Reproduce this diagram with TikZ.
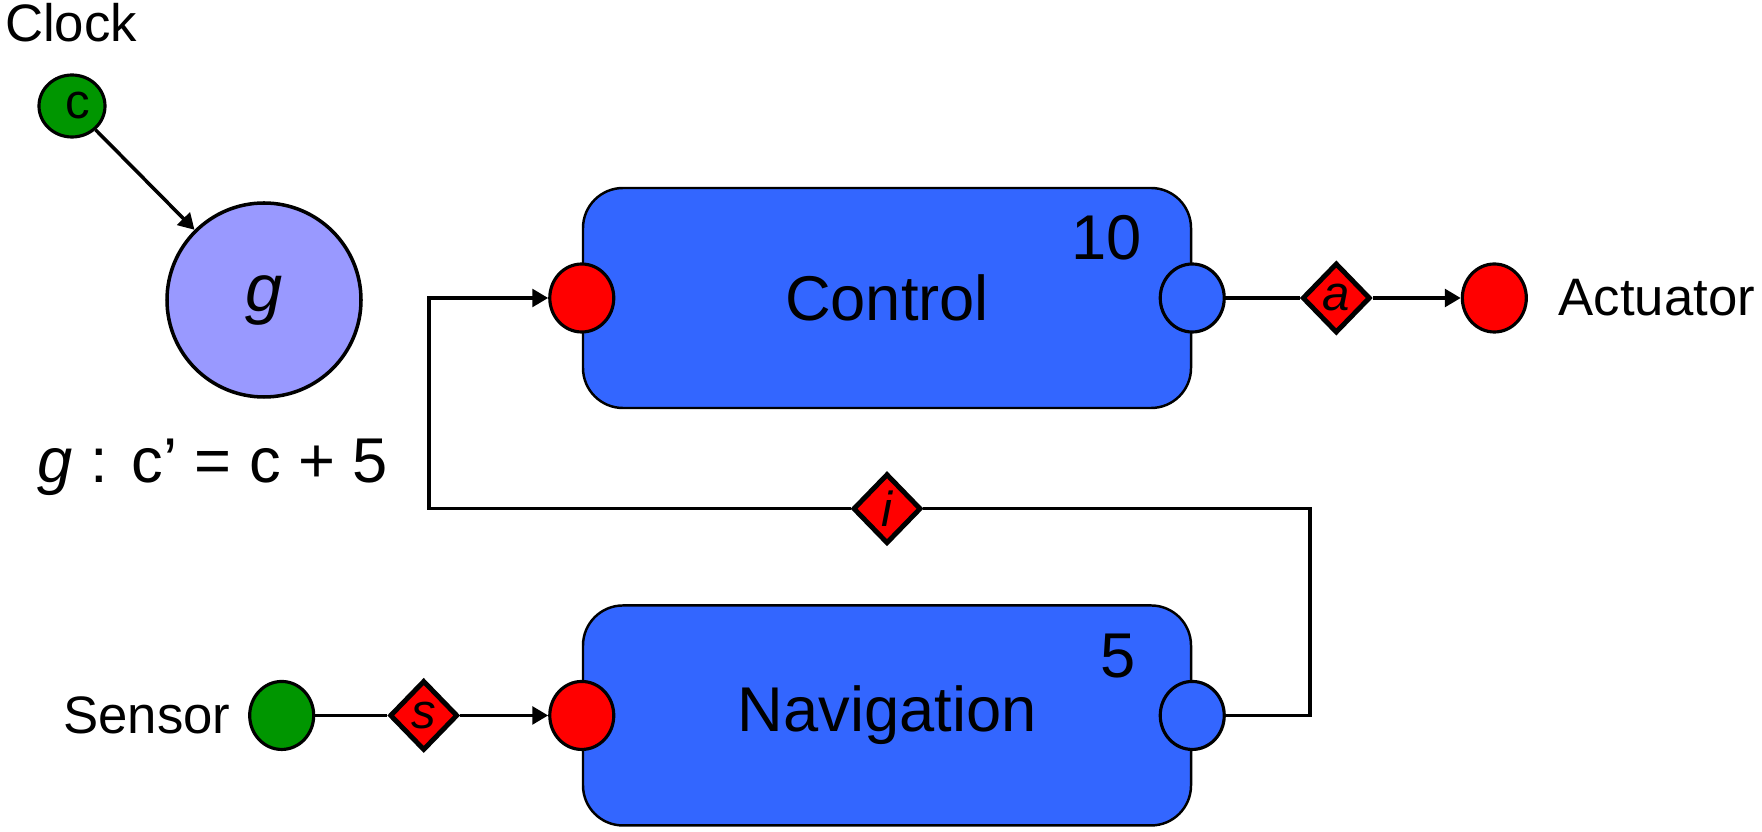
\documentclass[tikz,border=0pt]{standalone}
\usepackage{fontspec}
\setmainfont{Liberation Sans}
\usetikzlibrary{positioning, shapes.geometric, arrows.meta}
\definecolor{boxblue}{RGB}{51,102,255}
\definecolor{portred}{RGB}{255,0,0}
\definecolor{clkgreen}{RGB}{0,150,0}
\definecolor{funblue}{RGB}{153,153,255}
\tikzset{
->, % connectors are directed unless told otherwise
>={Triangle[length=4.5pt,width=5pt]}, % small solid heads
wire/.style={line width=1pt}, % every connector
block/.style={draw, line width=0.7pt, fill=boxblue, rounded corners=0.4cm,
  minimum width=6.08cm, minimum height=2.2cm, font=\fontsize{18pt}{21pt}\selectfont},
port/.style={draw, ellipse, line width=0.9pt, inner sep=0,
  minimum width=0.64cm, minimum height=0.68cm}, % ports sit on the box sides
chan/.style={draw, diamond, aspect=1, line width=1.4pt, fill=portred, inner sep=0,
  minimum width=0.68cm, minimum height=0.7cm, font=\fontsize{14pt}{16pt}\selectfont\itshape},
lbl/.style={inner sep=0, font=\fontsize{15pt}{18pt}\selectfont},
rate/.style={inner sep=0, font=\fontsize{18pt}{21pt}\selectfont},
}

\begin{document}
\begin{tikzpicture}
        \useasboundingbox (0,0) rectangle (17.62,-8.32);

        % clock and guard
        \node[lbl, anchor=base west] (clklbl) at (0.045,-0.42) {Clock};
        \node[draw, ellipse, line width=0.9pt, fill=clkgreen, inner sep=0,
              minimum width=0.66cm, minimum height=0.62cm,
              font=\fontsize{14pt}{16pt}\selectfont] (clk) at (0.72,-1.06) {\hspace{0.12cm}c};
        \node[draw, circle, line width=1pt, fill=funblue, minimum size=1.94cm,
              font=\fontsize{19pt}{22pt}\selectfont\itshape] (g) at (2.64,-3.0) {g};
        \node[anchor=base west, inner sep=0, font=\fontsize{18pt}{21pt}\selectfont]
              (geq) at (0.37,-4.83) {\textit{g} : c’ = c + 5};

        % the two tasks
        \node[block] (ctrl) at (8.87,-2.98) {Control};
        \node[block, below=1.95cm of ctrl] (nav) {Navigation};
        \node[rate, below left=0.28cm and 0.5cm of ctrl.north east] (ctrlrate) {10};
        \node[rate, below left=0.29cm and 0.56cm of nav.north east] (navrate) {5};

        \node[port, fill=portred] (ctrlin) at (ctrl.west) {};
        \node[port, fill=boxblue] (ctrlout) at (ctrl.east) {};
        \node[port, fill=portred] (navin) at (nav.west) {};
        \node[port, fill=boxblue] (navout) at (nav.east) {};

        % actuator side
        \node[chan, right=0.74cm of ctrlout] (da) {a};
        \node[port, fill=portred, right=0.88cm of da] (act) {};
        \node[lbl, right=0.3cm of act] (actlbl) {Actuator};

        % sensor side
        \node[chan, left=0.88cm of navin] (ds) {s};
        \node[port, fill=clkgreen, left=0.72cm of ds] (sen) {};
        \node[lbl, left=0.17cm of sen] (senlbl) {Sensor};

        % feedback from navigation to control
        \node[chan, below=0.62cm of ctrl] (di) {i};
        \coordinate[right=0.84cm of navout] (fbr);
        \coordinate[left=1.19cm of ctrlin] (fbl);

        \draw[wire] (clk) edge (g)
        (ctrlout) edge[-] (da)
        (da) edge (act)
        (sen) edge[-] (ds)
        (ds) edge (navin);
        \draw[wire, -] (navout) -- (fbr) |- (di);
        \draw[wire] (di) -| (fbl) -- (ctrlin);
      \end{tikzpicture}
\end{document}
